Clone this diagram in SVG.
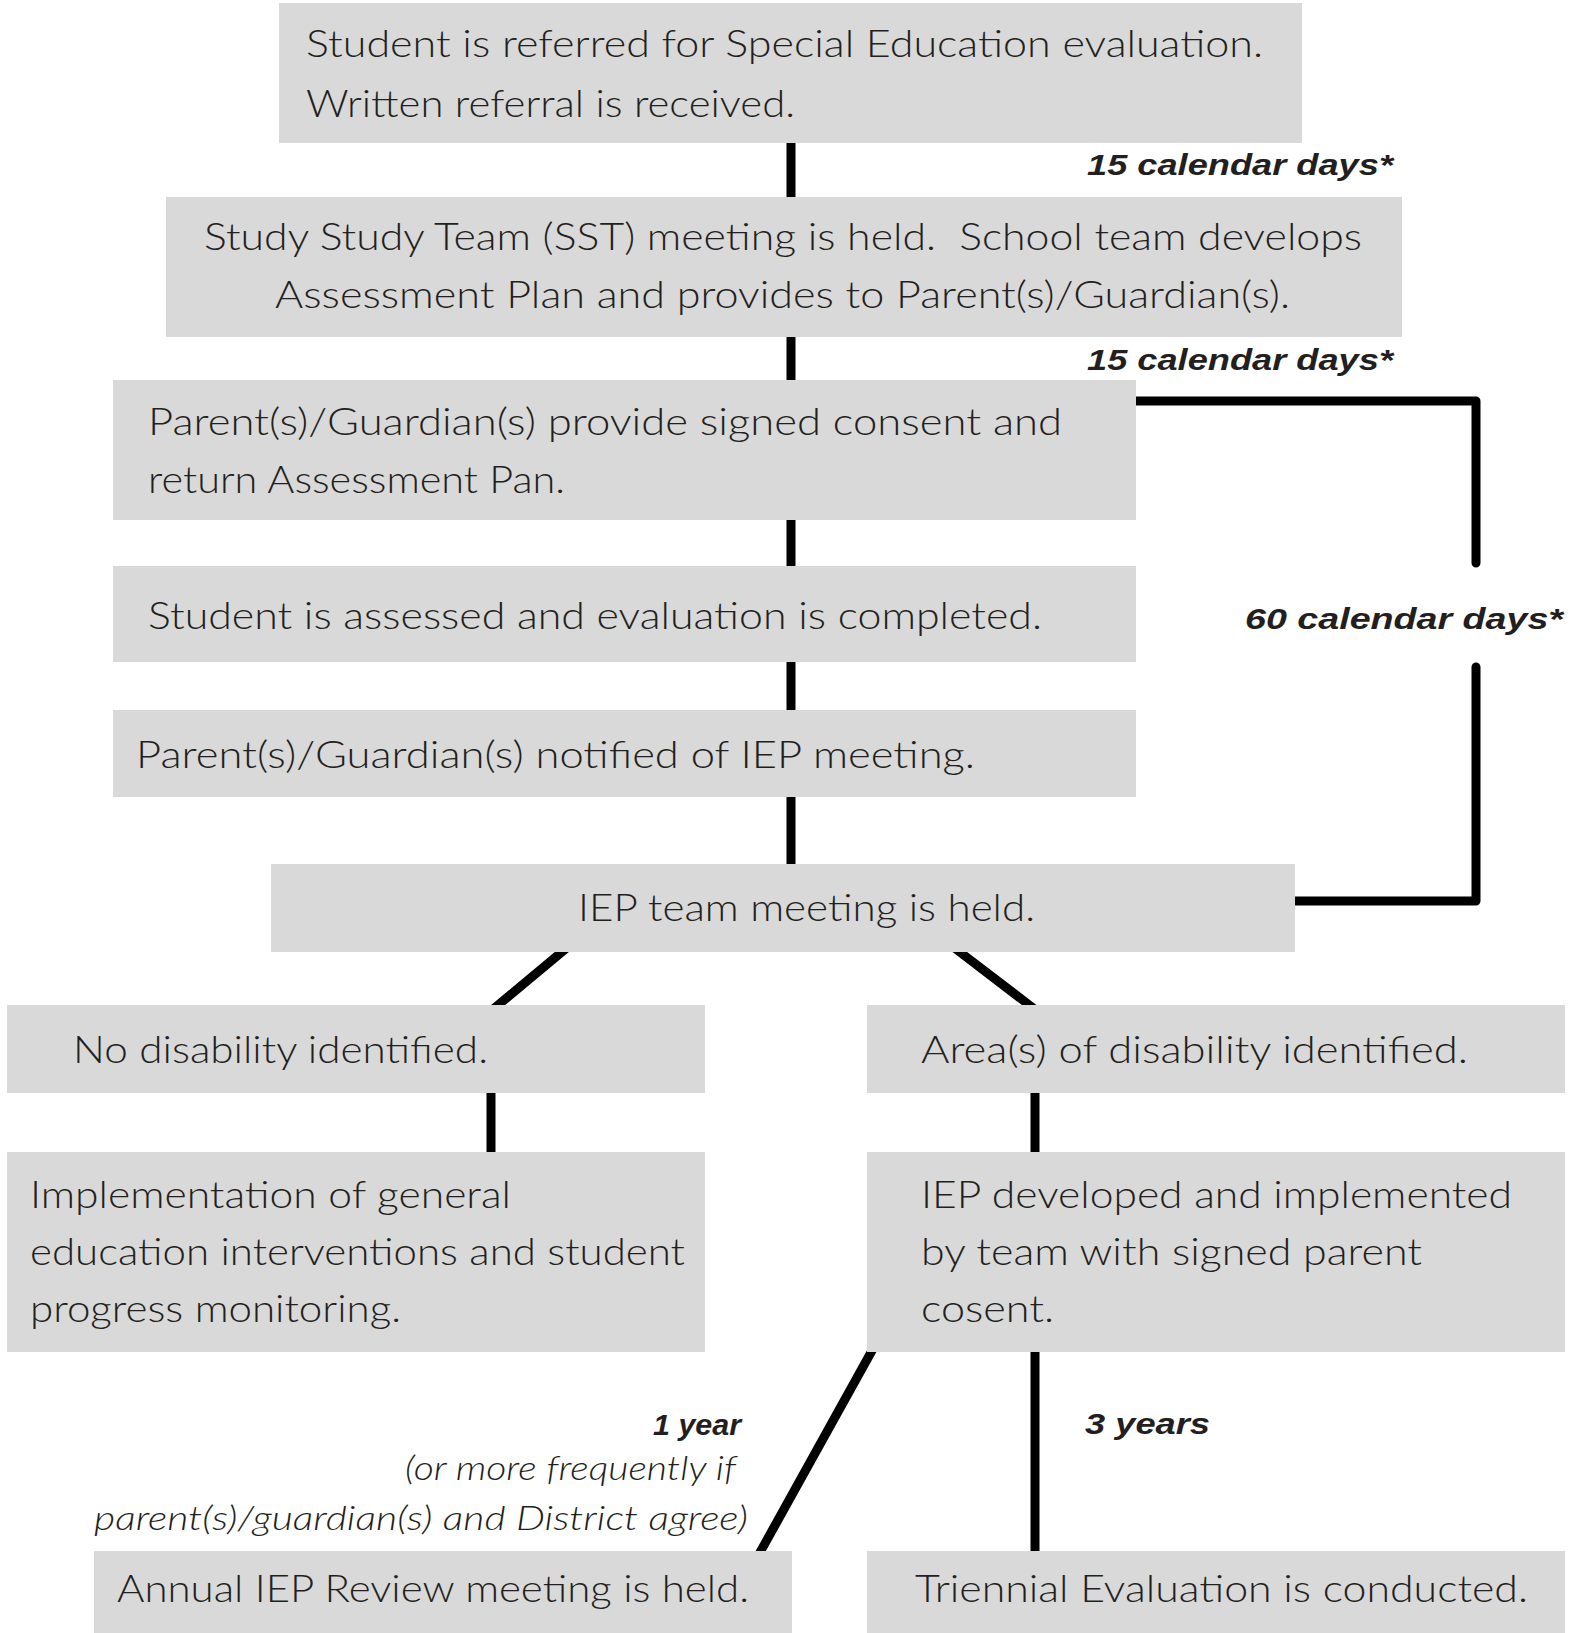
<svg xmlns="http://www.w3.org/2000/svg" width="1574" height="1633" viewBox="0 0 1574 1633">
<defs>
<style>
.box{fill:#d9d9d9}
.t{font-family:Lato,"Liberation Sans",sans-serif;font-size:37px;font-weight:300;fill:#231f20}
.lb{font-family:"Liberation Sans",Lato,sans-serif;font-size:30px;font-weight:bold;font-style:italic;fill:#231f20}
.li{font-family:Lato,"Liberation Sans",sans-serif;font-size:33px;font-weight:300;font-style:italic;fill:#231f20}
.c{fill:none;stroke:#000;stroke-width:9;stroke-linecap:round;stroke-linejoin:round}
</style>
</defs>
<rect width="1574" height="1633" fill="#fff"/>
<g id="connectors" class="c">
<line x1="791" y1="140" x2="791" y2="200"/>
<line x1="791" y1="334" x2="791" y2="383"/>
<line x1="791" y1="517" x2="791" y2="569"/>
<line x1="791" y1="659" x2="791" y2="713"/>
<line x1="791" y1="794" x2="791" y2="867"/>
<path d="M1130,401 H1476 V563"/>
<path d="M1476,667 V901 H1288"/>
<line x1="569" y1="946" x2="491" y2="1011"/>
<line x1="952" y1="946" x2="1037" y2="1011"/>
<line x1="491" y1="1090" x2="491" y2="1155"/>
<line x1="1035" y1="1090" x2="1035" y2="1155"/>
<line x1="874" y1="1347" x2="758" y2="1556"/>
<line x1="1035" y1="1349" x2="1035" y2="1554"/>
</g>
<g id="n1"><rect class="box" x="279" y="3" width="1023" height="140"/>
<text class="t" x="306" y="57" textLength="957" lengthAdjust="spacingAndGlyphs">Student is referred for Special Education evaluation.</text>
<text class="t" x="306" y="117" textLength="489" lengthAdjust="spacingAndGlyphs">Written referral is received.</text></g>
<g id="n2"><rect class="box" x="166" y="197" width="1236" height="140"/>
<text class="t" x="204" y="250" textLength="1158" lengthAdjust="spacingAndGlyphs" xml:space="preserve">Study Study Team (SST) meeting is held.  School team develops</text>
<text class="t" x="275" y="308" textLength="1015" lengthAdjust="spacingAndGlyphs">Assessment Plan and provides to Parent(s)/Guardian(s).</text></g>
<g id="n3"><rect class="box" x="113" y="380" width="1023" height="140"/>
<text class="t" x="148" y="435" textLength="914" lengthAdjust="spacingAndGlyphs">Parent(s)/Guardian(s) provide signed consent and</text>
<text class="t" x="148" y="493" textLength="417" lengthAdjust="spacingAndGlyphs">return Assessment Pan.</text></g>
<g id="n4"><rect class="box" x="113" y="566" width="1023" height="96"/>
<text class="t" x="148" y="629" textLength="894" lengthAdjust="spacingAndGlyphs">Student is assessed and evaluation is completed.</text></g>
<g id="n5"><rect class="box" x="113" y="710" width="1023" height="87"/>
<text class="t" x="136" y="768" textLength="839" lengthAdjust="spacingAndGlyphs">Parent(s)/Guardian(s) notified of IEP meeting.</text></g>
<g id="n6"><rect class="box" x="271" y="864" width="1024" height="88"/>
<text class="t" x="578" y="921" textLength="457" lengthAdjust="spacingAndGlyphs">IEP team meeting is held.</text></g>
<g id="n7"><rect class="box" x="7" y="1005" width="698" height="88"/>
<text class="t" x="73" y="1063" textLength="415" lengthAdjust="spacingAndGlyphs">No disability identified.</text></g>
<g id="n8"><rect class="box" x="867" y="1005" width="698" height="88"/>
<text class="t" x="921" y="1063" textLength="547" lengthAdjust="spacingAndGlyphs">Area(s) of disability identified.</text></g>
<g id="n9"><rect class="box" x="7" y="1152" width="698" height="200"/>
<text class="t" x="30" y="1208" textLength="481" lengthAdjust="spacingAndGlyphs">Implementation of general</text>
<text class="t" x="30" y="1265" textLength="655" lengthAdjust="spacingAndGlyphs">education interventions and student</text>
<text class="t" x="30" y="1322" textLength="371" lengthAdjust="spacingAndGlyphs">progress monitoring.</text></g>
<g id="n10"><rect class="box" x="867" y="1152" width="698" height="200"/>
<text class="t" x="921" y="1208" textLength="591" lengthAdjust="spacingAndGlyphs">IEP developed and implemented</text>
<text class="t" x="921" y="1265" textLength="501" lengthAdjust="spacingAndGlyphs">by team with signed parent</text>
<text class="t" x="921" y="1322" textLength="133" lengthAdjust="spacingAndGlyphs">cosent.</text></g>
<g id="n11"><rect class="box" x="94" y="1551" width="698" height="82"/>
<text class="t" x="117" y="1602" textLength="632" lengthAdjust="spacingAndGlyphs">Annual IEP Review meeting is held.</text></g>
<g id="n12"><rect class="box" x="867" y="1551" width="698" height="82"/>
<text class="t" x="915" y="1602" textLength="613" lengthAdjust="spacingAndGlyphs">Triennial Evaluation is conducted.</text></g>
<g id="labels">
<text class="lb" x="1087" y="175" textLength="306" lengthAdjust="spacingAndGlyphs">15 calendar days*</text>
<text class="lb" x="1087" y="370" textLength="306" lengthAdjust="spacingAndGlyphs">15 calendar days*</text>
<text class="lb" x="1245" y="629" textLength="318" lengthAdjust="spacingAndGlyphs">60 calendar days*</text>
<text class="lb" x="653" y="1435" textLength="88" lengthAdjust="spacingAndGlyphs">1 year</text>
<text class="li" x="405" y="1480" textLength="331" lengthAdjust="spacingAndGlyphs">(or more frequently if</text>
<text class="li" x="94" y="1530" textLength="654" lengthAdjust="spacingAndGlyphs">parent(s)/guardian(s) and District agree)</text>
<text class="lb" x="1085" y="1434" textLength="125" lengthAdjust="spacingAndGlyphs">3 years</text>
</g>
</svg>
